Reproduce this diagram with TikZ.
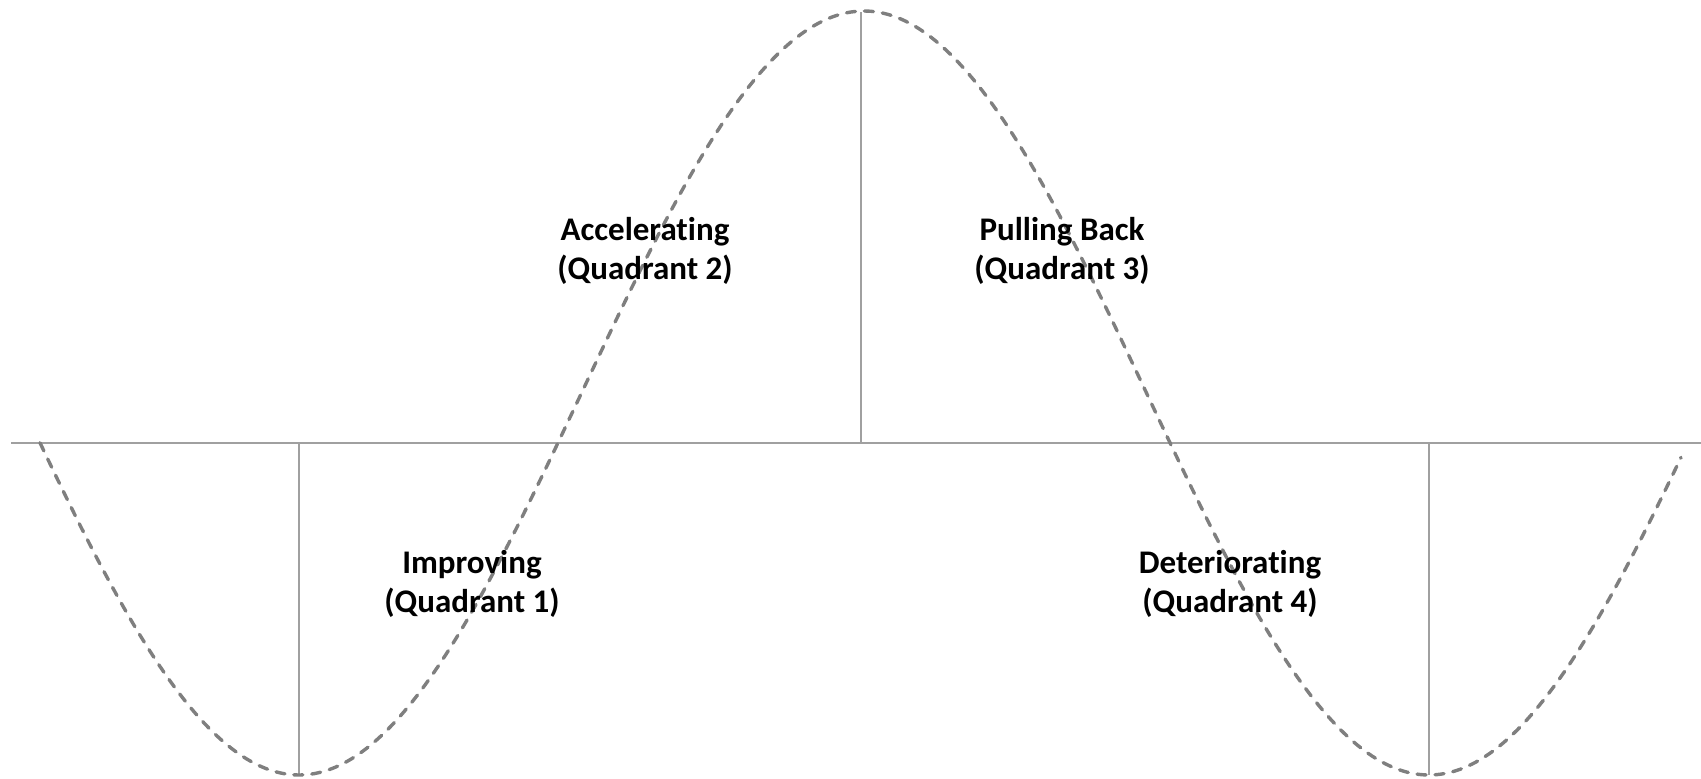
\documentclass[tikz,border=0pt]{standalone}
\usepackage{fontspec}
\setmainfont{Carlito}[RawFeature=-liga]
\usepackage{xcolor}
\usepackage{tikz}
\usetikzlibrary{positioning}
\definecolor{qcInk}{HTML}{000000}
\definecolor{qcLine}{HTML}{A0A0A0}
\definecolor{qcCurve}{HTML}{7F7F7F}
\tikzset{
  qc diagram/.style={x=1pt, y=-1pt, font=\fontsize{33}{39}\selectfont\bfseries,
    text=qcInk, line join=round},
  qc axis/.style={draw=qcLine, line width=2pt},
  qc curve/.style={draw=qcCurve, line width=3.4pt, line cap=round,
    dash pattern=on 9pt off 9pt},
  qc label/.style={align=center, inner sep=0pt}
}
\begin{document}
\begin{tikzpicture}[qc diagram]
\useasboundingbox (0,0) rectangle (1701,779);
% axes
\coordinate (axisL) at (11,443);
\coordinate (axisR) at (1701,443);
\coordinate (q1top) at (299,443);
\coordinate (q1bot) at (299,775);
\coordinate (peakTop) at (861,12);
\coordinate (peakBot) at (861,443);
\coordinate (q4top) at (1429,443);
\coordinate (q4bot) at (1429,775);
\draw[qc axis] (axisL) -- (axisR);
\draw[qc axis] (q1top) -- (q1bot);
\draw[qc axis] (peakTop) -- (peakBot);
\draw[qc axis] (q4top) -- (q4bot);
% cycle
\draw[qc curve] plot[domain=40:1681, samples=240, smooth]
  (\x, {393+382*cos(0.318584*(\x-299))});
% phases
\node[qc label] (improving) at (472,584) {Improving\\(Quadrant 1)};
\node[qc label] (accelerating) at (645,251) {Accelerating\\(Quadrant 2)};
\node[qc label] (pullback) at (1062,251) {Pulling Back\\(Quadrant 3)};
\node[qc label] (deteriorating) at (1230,584) {Deteriorating\\(Quadrant 4)};
\end{tikzpicture}
\end{document}
